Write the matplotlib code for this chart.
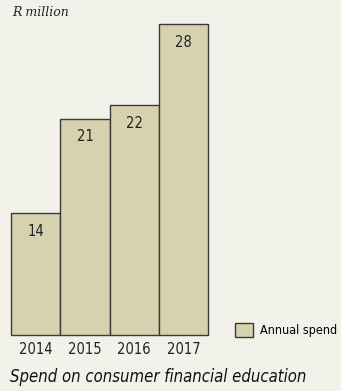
import matplotlib.pyplot as plt
from matplotlib.patches import Patch

years = ['2014', '2015', '2016', '2017']
spend = [14, 21, 22, 28]
BASE = 5  # value axis starts here

BG = '#f2f2eb'
BAR = '#d6d2b0'
EDGE = '#3a3a3a'
SANS = ['DejaVu Sans']
NARROW = dict(family=SANS, stretch='condensed')


def main():
    fig = plt.figure(figsize=(3.41, 3.91), dpi=100, facecolor=BG)
    ax = fig.add_axes([11 / 341, 56 / 391, 197.3 / 341, 310.7 / 391])
    ax.set_facecolor(BG)

    x = range(len(years))
    bars = ax.bar(x, [v - BASE for v in spend], width=1.0, bottom=BASE,
                  color=BAR, edgecolor=EDGE, linewidth=1.0, clip_on=False)
    ax.set_xlim(-0.5, len(years) - 0.5)
    ax.set_ylim(BASE, max(spend))

    for rect, v in zip(bars, spend):
        ax.annotate(f'{v}', (rect.get_x() + rect.get_width() / 2, v),
                    xytext=(0, -13), textcoords='offset points',
                    ha='center', va='center', fontsize=10.5,
                    color='#222222', **NARROW)

    ax.set_xticks(list(x), labels=years, fontsize=10.5, color='#222222',
                  **NARROW)
    ax.tick_params(axis='x', length=0, pad=5)
    ax.set_yticks([])
    for s in ax.spines.values():
        s.set_visible(False)

    fig.text(12 / 341, 1 - 13 / 391, 'R million', family='DejaVu Serif',
             style='italic', fontsize=9, va='center', color='#222222')
    fig.text(10 / 341, 1 - 377 / 391, 'Spend on consumer financial education',
             style='italic', fontsize=12, va='center', color='#111111',
             **NARROW)

    fig.legend(handles=[Patch(facecolor=BAR, edgecolor=EDGE, linewidth=1.0,
                              label='Annual spend')],
               loc='center left', bbox_to_anchor=(235 / 341, 1 - 330 / 391),
               frameon=False, prop={'family': SANS, 'size': 9,
                                    'stretch': 'condensed'},
               handlelength=1.4, handleheight=1.4, handletextpad=0.6,
               borderaxespad=0, borderpad=0)

    plt.savefig('out.png', dpi=100, facecolor=BG)


if __name__ == '__main__':
    main()
